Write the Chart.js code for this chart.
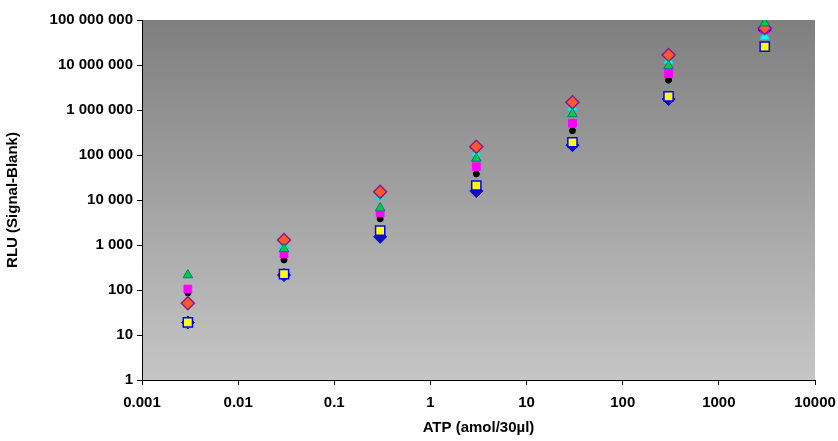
<!DOCTYPE html>
<html>
<head>
<meta charset="utf-8">
<script src="https://cdn.jsdelivr.net/npm/chart.js@4"></script>
<style>
  html, body { margin: 0; padding: 0; background: #fff; }
  #wrap { width: 838px; height: 441px; }
</style>
</head>
<body>
<div id="wrap"><canvas id="myChart" width="838" height="441"></canvas></div>
<script>
// ATP concentrations (amol/30µl)
const atp = [0.003, 0.03, 0.3, 3, 30, 300, 3000];

// RLU values per series
const seriesYellow  = [19, 225, 2090, 21000, 192000, 2000000, 25600000];
const seriesRed     = [51, 1290, 15200, 152000, 1480000, 16700000, 66000000];
const seriesGreen   = [215, 815, 6600, 84000, 820000, 9600000, 85000000];
const seriesMagenta = [105, 630, 5200, 55000, 505000, 6500000, 62000000];
const seriesCyan    = [17, 960, 11700, 110000, 1150000, 12500000, 43000000];
const seriesBlack   = [86, 465, 3800, 38000, 347000, 4600000, 56000000];
const seriesBlue    = [19, 215, 1520, 15800, 165000, 1750000, 60000000];

// tick labels
const xTicks = [0.001, 0.01, 0.1, 1, 10, 100, 1000, 10000];
const xTickLabels = ["0.001", "0.01", "0.1", "1", "10", "100", "1000", "10000"];
const yTicks = [1, 10, 100, 1000, 10000, 100000, 1000000, 10000000, 100000000];
const yTickLabels = ["1", "10", "100", "1 000", "10 000", "100 000", "1 000 000", "10 000 000", "100 000 000"];

function pts(values) {
    return atp.map((x, i) => ({ x: x, y: values[i] }));
}

// gray gradient behind the plot area
const plotBackground = {
    id: "plotBackground",
    beforeDraw(chart) {
        const { ctx, chartArea: a } = chart;
        const g = ctx.createLinearGradient(0, a.top, 0, a.bottom);
        g.addColorStop(0, "#7f7f7f");
        g.addColorStop(1, "#c6c6c6");
        ctx.save();
        ctx.fillStyle = g;
        ctx.fillRect(a.left, a.top, a.right - a.left, a.bottom - a.top);
        ctx.restore();
    }
};

const font = { family: "'Liberation Sans', Arial, sans-serif", size: 15, weight: "bold" };

const ctx = document.getElementById("myChart").getContext("2d");
new Chart(ctx, {
    type: "scatter",
    data: {
        datasets: [
            { label: "yellow", data: pts(seriesYellow), pointStyle: "rect", pointRadius: 6.5,
              backgroundColor: "#ffff00", borderColor: "#0000ff", borderWidth: 1.5 },
            { label: "green", data: pts(seriesGreen), pointStyle: "triangle", pointRadius: 5.5,
              backgroundColor: "#00cc44", borderColor: "#007a7a", borderWidth: 1 },
            { label: "red", data: pts(seriesRed), pointStyle: "rectRot", pointRadius: 6.5,
              backgroundColor: "#ff5a28", borderColor: "#8b1a8b", borderWidth: 1.5 },
            { label: "magenta", data: pts(seriesMagenta), pointStyle: "rect", pointRadius: 5.5,
              backgroundColor: "#ff00ff", borderColor: "#ff00ff", borderWidth: 1 },
            { label: "cyan", data: pts(seriesCyan), pointStyle: "triangle", pointRadius: 5.5,
              backgroundColor: "#00ffff", borderColor: "#00e0e0", borderWidth: 1 },
            { label: "black", data: pts(seriesBlack), pointStyle: "circle", pointRadius: 3,
              backgroundColor: "#000000", borderColor: "#000000", borderWidth: 1 },
            { label: "blue", data: pts(seriesBlue), pointStyle: "rectRot", pointRadius: 6.5,
              backgroundColor: "#1010c0", borderColor: "#0000ff", borderWidth: 1 }
        ]
    },
    options: {
        responsive: false,
        animation: false,
        layout: { padding: { top: 20, right: 23, left: 0, bottom: 0 } },
        plugins: {
            legend: { display: false },
            tooltip: { enabled: false }
        },
        scales: {
            x: {
                type: "logarithmic",
                min: 0.001,
                max: 10000,
                afterBuildTicks: s => { s.ticks = xTicks.map(v => ({ value: v })); },
                afterFit: s => { s.height = 61; s.paddingLeft = 0; s.paddingRight = 0; },
                ticks: {
                    color: "#000",
                    font: font,
                    maxRotation: 0,
                    autoSkip: false,
                    padding: 9,
                    callback: (v) => xTickLabels[xTicks.indexOf(v)]
                },
                grid: { drawOnChartArea: false, color: "#000", tickLength: 5 },
                border: { display: true, color: "#000" },
                title: { display: true, text: "ATP (amol/30µl)", color: "#000", font: font, padding: { top: 4 } }
            },
            y: {
                type: "logarithmic",
                min: 1,
                max: 100000000,
                afterBuildTicks: s => { s.ticks = yTicks.map(v => ({ value: v })); },
                afterFit: s => { s.width = 142; },
                ticks: {
                    color: "#000",
                    font: font,
                    autoSkip: false,
                    padding: 4,
                    callback: (v) => yTickLabels[yTicks.indexOf(v)]
                },
                grid: { drawOnChartArea: false, color: "#000", tickLength: 5 },
                border: { display: true, color: "#000" },
                title: { display: true, text: "RLU (Signal-Blank)", color: "#000", font: font, padding: { bottom: 2 } }
            }
        }
    },
    plugins: [plotBackground]
});
</script>
</body>
</html>
